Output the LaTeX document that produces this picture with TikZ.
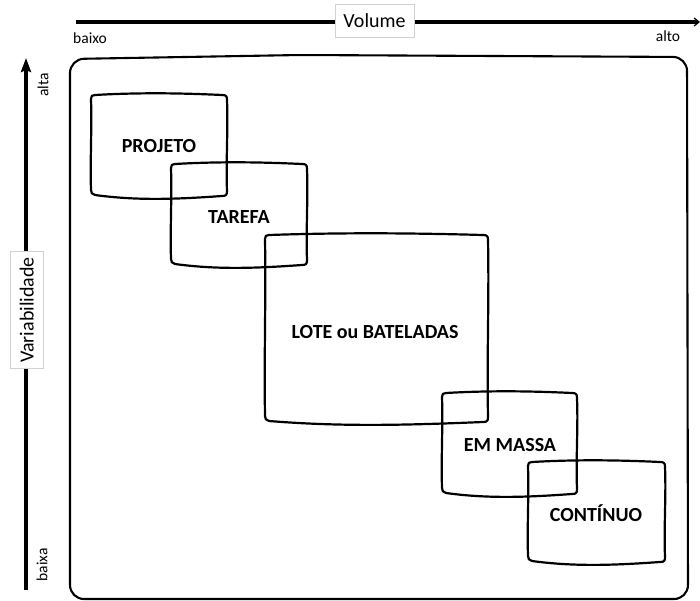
\documentclass[tikz,border=0pt]{standalone}
\usepackage{fontspec}
\setmainfont{Carlito}
\usetikzlibrary{arrows.meta}
\tikzset{
  hand/.style={line width=2.2pt, line join=round, line cap=round},
  frame/.style={line width=2.1pt, line join=round},
  axisline/.style={line width=3.2pt},
  axlabel/.style={draw=black!18, fill=white, line width=0.7pt, inner xsep=8.5pt, inner ysep=0pt,
     text height=14pt, text depth=0pt, minimum height=33pt, font=\fontsize{20}{20}\selectfont},
  endlabel/.style={font=\fontsize{15.5}{15.5}\selectfont, inner sep=0pt},
  boxlabel/.style={font=\bfseries\fontsize{20}{20}\selectfont, inner sep=0pt}
}
\newcommand{\handbox}[4]{%
  \draw[hand] ({#1+4},{#2}) .. controls ({#1+0.35*(#3-#1)},{#2-2.5}) and ({#3-0.35*(#3-#1)},{#2-2}) .. ({#3-5},{#2})
   .. controls ({#3-1},{#2}) and ({#3},{#2+1}) .. ({#3},{#2+5})
   .. controls ({#3+1.2},{#2+0.35*(#4-#2)}) and ({#3-1.2},{#4-0.35*(#4-#2)}) .. ({#3},{#4-5})
   .. controls ({#3},{#4-1}) and ({#3-1},{#4}) .. ({#3-5},{#4})
   .. controls ({#3-0.35*(#3-#1)},{#4+3}) and ({#1+0.35*(#3-#1)},{#4+5}) .. ({#1+4},{#4-1})
   .. controls ({#1+1},{#4-2}) and ({#1},{#4-3}) .. ({#1},{#4-6})
   .. controls ({#1-1},{#4-0.35*(#4-#2)}) and ({#1+1},{#2+0.35*(#4-#2)}) .. ({#1},{#2+4})
   .. controls ({#1},{#2+1}) and ({#1+1},{#2}) .. ({#1+4},{#2}) -- cycle;}
\begin{document}
\begin{tikzpicture}[x=1pt,y=-1pt]
\useasboundingbox (0,0) rectangle (700,601);
% horizontal axis
\coordinate (hs) at (76,22);
\coordinate (he) at (700,22);
\draw[axisline, -{Straight Barb[length=5pt,width=8pt,line width=1.2pt]}] (hs) -- (he);
\node[axlabel] (vol) at (374.5,20.5) {Volume};
\node[endlabel] (baixo) at (90,38) {baixo};
\node[endlabel] (alto) at (668,36) {alto};
% vertical axis
\coordinate (vs) at (26,590);
\coordinate (ve) at (26,58);
\draw[axisline, -{Stealth[length=14pt,width=10pt,inset=2pt]}] (vs) -- (ve);
\node[axlabel, rotate=90, inner xsep=5.5pt] (var) at (26.5,310) {Variabilidade};
\node[endlabel, rotate=90] (alta) at (43,85) {alta};
\node[endlabel, rotate=90] (baixa) at (42,565) {baixa};
% outer frame
\draw[frame, rounded corners=14pt] (70,59) -- (300,55) -- (687,57) -- (688,599) -- (70,599) -- cycle;
% hand-drawn boxes
\handbox{91}{95}{227}{196}
\handbox{171}{164}{307}{265}
\handbox{265}{235}{488}{422}
\handbox{442}{393}{577}{494}
\handbox{528}{462}{665}{562}
\node[boxlabel] (projeto) at (159,146) {PROJETO};
\node[boxlabel] (tarefa) at (239,217) {TAREFA};
\node[boxlabel] (lote) at (375,332) {LOTE ou BATELADAS};
\node[boxlabel] (massa) at (510,445) {EM MASSA};
\node[boxlabel] (continuo) at (596,513) {CONTÍNUO};
\end{tikzpicture}
\end{document}
